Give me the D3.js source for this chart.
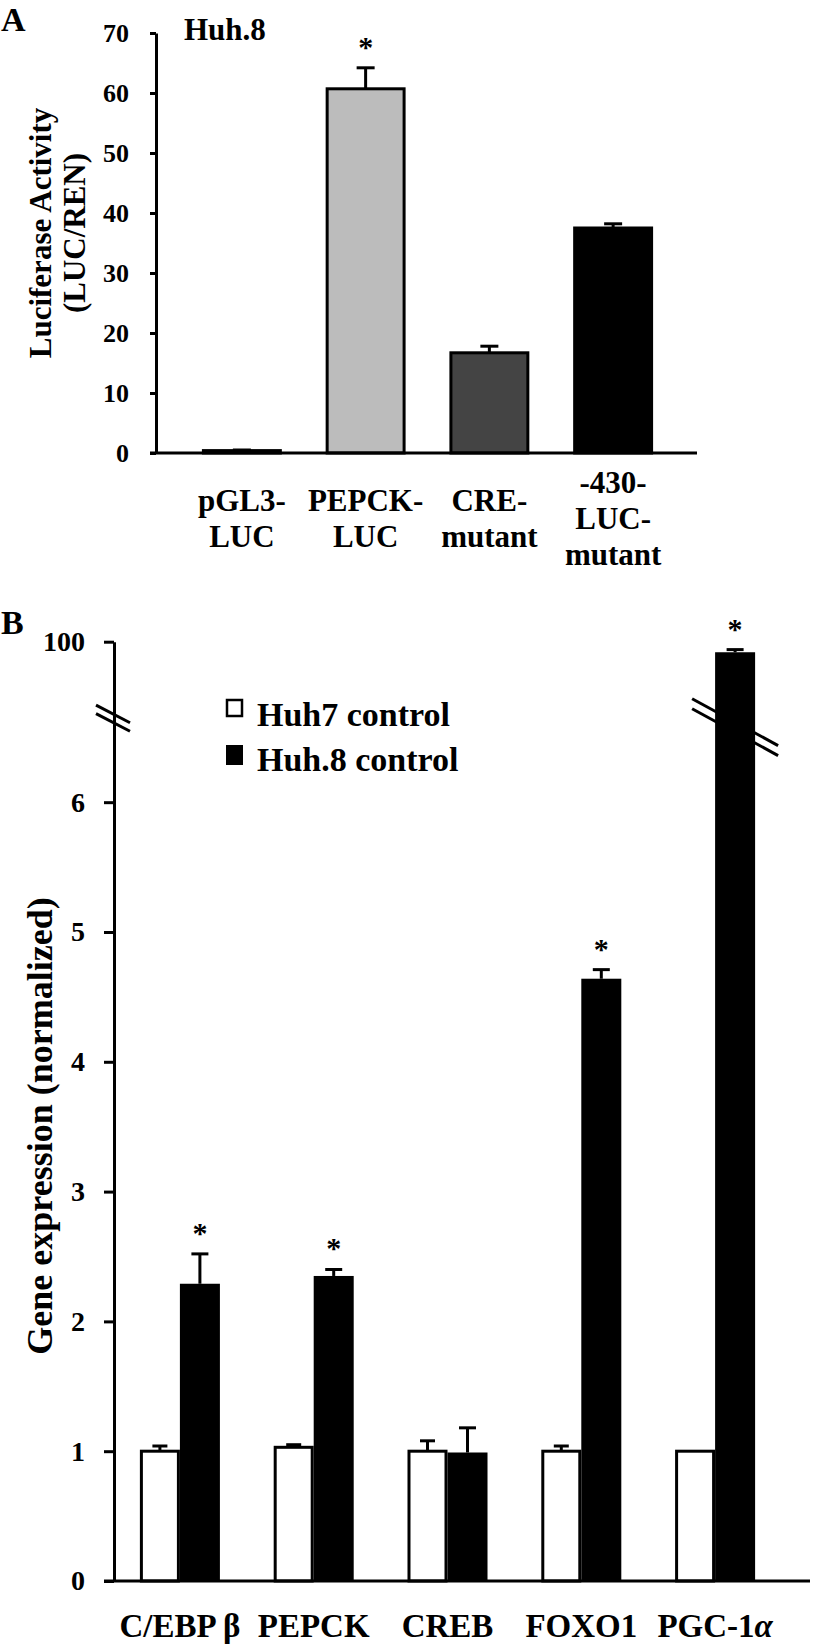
<!DOCTYPE html>
<html>
<head>
<meta charset="utf-8">
<script src="https://cdn.jsdelivr.net/npm/d3@7"></script>
<style>
  body { margin: 0; background: #fff; }
  svg { display: block; font-family: "Liberation Serif", "Times New Roman", serif; font-weight: bold; }
</style>
</head>
<body>
<svg id="fig" width="813" height="1645"></svg>
<script>
// panel A data
var lucNames = ["pGL3-LUC", "PEPCK-LUC", "CRE-mutant", "-430-LUC-mutant"];
var lucLabels = [["pGL3-", "LUC"], ["PEPCK-", "LUC"], ["CRE-", "mutant"], ["-430-", "LUC-", "mutant"]];
var lucValues = [0.4, 60.7, 16.7, 37.5];
var lucErrors = [0.1, 3.5, 1.1, 0.7];
var lucColors = ["#ffffff", "#bcbcbc", "#444444", "#000000"];
var lucSig = [false, true, false, false];
var lucTicks = [0, 10, 20, 30, 40, 50, 60, 70];

// panel B data
var genes = ["C/EBP β", "PEPCK", "CREB", "FOXO1", "PGC-1α"];
var groups = ["Huh7 control", "Huh.8 control"];
var huh7Values = [1.00, 1.03, 1.00, 1.00, 1.00];
var huh7Errors = [0.04, 0.02, 0.08, 0.04, 0];
var huh8Values = [2.29, 2.35, 0.99, 4.64, 98.8];
var huh8Errors = [0.23, 0.05, 0.19, 0.07, 0.3];
var huh8Sig = [true, true, false, true, true];
var geneTicks = [0, 1, 2, 3, 4, 5, 6, 100];

var svg = d3.select("#fig");

function styleAxis(g, size) {
  g.attr("font-family", null).attr("font-size", size);
  g.select(".domain").attr("stroke-width", 3);
  g.selectAll(".tick line").attr("stroke-width", 3);
  g.selectAll(".tick text").attr("fill", "#000");
}

function errorBar(g, cx, yTop, yBase, cap) {
  g.append("line").attr("x1", cx).attr("x2", cx).attr("y1", yBase).attr("y2", yTop)
    .attr("stroke", "#000").attr("stroke-width", 3);
  g.append("line").attr("x1", cx - cap / 2).attr("x2", cx + cap / 2).attr("y1", yTop).attr("y2", yTop)
    .attr("stroke", "#000").attr("stroke-width", 3);
}

function star(g, cx, yTop) {
  g.append("text").attr("x", cx).attr("y", yTop - 11)
    .attr("text-anchor", "middle").attr("font-size", 30).text("*");
}

// two parallel slanted strokes marking the axis break
function breakMark(g, cx, cy, half, slope, gap) {
  [-gap / 2, gap / 2].forEach(function(off) {
    g.append("line")
      .attr("x1", cx - half).attr("y1", cy + off - half * slope)
      .attr("x2", cx + half).attr("y2", cy + off + half * slope)
      .attr("stroke", "#000").attr("stroke-width", 3);
  });
}

// ---------------- Panel A ----------------
var gA = svg.append("g");
var xA = d3.scaleBand().domain(lucNames).range([180, 675]).paddingInner(0.354).paddingOuter(0.177);
var yA = d3.scaleLinear().domain([0, 70]).range([453, 33]);
var axisXA = 156;

gA.append("text").attr("x", 1).attr("y", 31).attr("font-size", 34).text("A");
gA.append("text").attr("x", 184).attr("y", 40).attr("font-size", 31).text("Huh.8");

gA.selectAll("rect.bar").data(lucNames).enter().append("rect")
  .attr("class", "bar")
  .attr("x", function(d) { return xA(d) + 1.5; })
  .attr("width", xA.bandwidth() - 3)
  .attr("y", function(d, i) { return yA(lucValues[i]); })
  .attr("height", function(d, i) { return yA(0) - yA(lucValues[i]); })
  .attr("fill", function(d, i) { return lucColors[i]; })
  .attr("stroke", "#000").attr("stroke-width", 3);

lucNames.forEach(function(d, i) {
  var cx = xA(d) + xA.bandwidth() / 2;
  var top = yA(lucValues[i] + lucErrors[i]);
  errorBar(gA, cx, top, yA(lucValues[i]), 18);
  if (lucSig[i]) star(gA, cx, top);
});

var yAxisA = gA.append("g").attr("transform", "translate(" + axisXA + ",0)")
  .call(d3.axisLeft(yA).tickValues(lucTicks).tickSize(6).tickPadding(21).tickSizeOuter(0));
styleAxis(yAxisA, 26);

gA.append("line").attr("x1", axisXA - 6).attr("x2", xA.range()[1] + 22)
  .attr("y1", yA(0)).attr("y2", yA(0)).attr("stroke", "#000").attr("stroke-width", 3);

lucLabels.forEach(function(lines, i) {
  var cx = xA(lucNames[i]) + xA.bandwidth() / 2;
  var t = gA.append("text").attr("text-anchor", "middle").attr("font-size", 31);
  lines.forEach(function(s, j) {
    t.append("tspan").attr("x", cx).attr("y", 529 - (lines.length - 1) * 18 + j * 36).text(s);
  });
});

gA.append("text").attr("transform", "translate(51,233) rotate(-90)")
  .attr("text-anchor", "middle").attr("font-size", 31).text("Luciferase Activity");
gA.append("text").attr("transform", "translate(85,233) rotate(-90)")
  .attr("text-anchor", "middle").attr("font-size", 31).text("(LUC/REN)");

// ---------------- Panel B ----------------
var gB = svg.append("g");
var xB = d3.scaleBand().domain(genes).range([113, 782]).paddingInner(0.402).paddingOuter(0.201);
var xSub = d3.scaleBand().domain(groups).range([0, xB.bandwidth()]);
// broken axis: 0-6.6 linear, then jump to the 92-100 segment
var yB = d3.scaleLinear().domain([0, 6.6, 92, 100]).range([1581, 724.3, 712, 641.7]);
var axisXB = 114;
var breakY = (yB(6.6) + yB(92)) / 2;

gB.append("text").attr("x", 1).attr("y", 634).attr("font-size", 34).text("B");

genes.forEach(function(g, i) {
  var x0 = xB(g), w = xSub.bandwidth();
  var xw = x0 + xSub(groups[0]), xk = x0 + xSub(groups[1]);
  gB.append("rect").attr("x", xw + 1.5).attr("width", w - 3)
    .attr("y", yB(huh7Values[i])).attr("height", yB(0) - yB(huh7Values[i]))
    .attr("fill", "#fff").attr("stroke", "#000").attr("stroke-width", 3);
  gB.append("rect").attr("x", xk).attr("width", w)
    .attr("y", yB(huh8Values[i])).attr("height", yB(0) - yB(huh8Values[i]))
    .attr("fill", "#000");
  if (huh7Errors[i] > 0)
    errorBar(gB, xw + w / 2, yB(huh7Values[i] + huh7Errors[i]), yB(huh7Values[i]), 15);
  var top8 = yB(huh8Values[i] + huh8Errors[i]);
  errorBar(gB, xk + w / 2, top8, yB(huh8Values[i]), 17);
  if (huh8Sig[i]) star(gB, xk + w / 2, top8);
});

// break across the tall PGC-1α bar
var lastGene = genes[genes.length - 1];
breakMark(gB, xB(lastGene) + xSub(groups[1]) + xSub.bandwidth() / 2, breakY + 9, 43, 0.545, 10);

// break on the y axis (axis line drawn over it)
breakMark(gB, axisXB - 1, breakY, 17, 0.52, 8.5);

var yAxisB = gB.append("g").attr("transform", "translate(" + axisXB + ",0)")
  .call(d3.axisLeft(yB).tickValues(geneTicks).tickSize(10).tickPadding(19).tickSizeOuter(0));
styleAxis(yAxisB, 28);

gB.append("line").attr("x1", axisXB - 10).attr("x2", xB.range()[1] + 28)
  .attr("y1", yB(0)).attr("y2", yB(0)).attr("stroke", "#000").attr("stroke-width", 3);

genes.forEach(function(g, i) {
  var t = gB.append("text").attr("x", xB(g) + xB.bandwidth() / 2).attr("y", 1637)
    .attr("text-anchor", "middle").attr("font-size", 33);
  if (g === "PGC-1α") {
    t.append("tspan").text("PGC-1");
    t.append("tspan").attr("font-style", "italic").text("α");
  } else {
    t.text(g);
  }
});

gB.append("text").attr("transform", "translate(52,1126) rotate(-90)")
  .attr("text-anchor", "middle").attr("font-size", 36).text("Gene expression (normalized)");

// legend
var legend = gB.append("g");
legend.append("rect").attr("x", 227).attr("y", 700).attr("width", 15).attr("height", 16)
  .attr("fill", "#fff").attr("stroke", "#000").attr("stroke-width", 2.5);
legend.append("rect").attr("x", 226).attr("y", 745).attr("width", 17).attr("height", 20)
  .attr("fill", "#000");
legend.append("text").attr("x", 257).attr("y", 726).attr("font-size", 34).text(groups[0]);
legend.append("text").attr("x", 257).attr("y", 771).attr("font-size", 34).text(groups[1]);
</script>
</body>
</html>
